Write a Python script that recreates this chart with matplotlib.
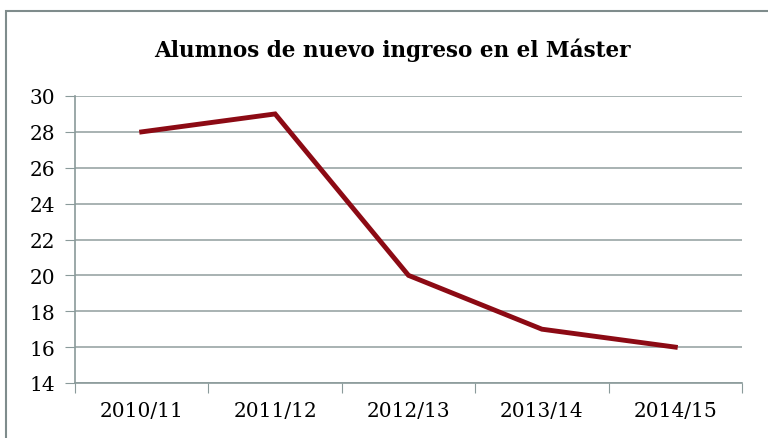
import matplotlib
matplotlib.use('Agg')
import matplotlib.pyplot as plt
from matplotlib.patches import Rectangle

# 数据
cursos = ['2010/11', '2011/12', '2012/13', '2013/14', '2014/15']
alumnos = [28, 29, 20, 17, 16]
y_ticks = [14, 16, 18, 20, 22, 24, 26, 28, 30]

plt.rcParams['font.family'] = ['DejaVu Serif']

fig = plt.figure(figsize=(7.68, 4.39), dpi=100)
ax = fig.add_axes([75 / 768, 1 - 384 / 439, (742 - 75) / 768, (384 - 97) / 439])

x = list(range(len(cursos)))
ax.plot(x, alumnos, color='#8c0a14', lw=3.5, solid_joinstyle='miter', zorder=3)

ax.set_xlim(-0.5, len(cursos) - 0.5)
ax.set_ylim(14, 30)
ax.set_yticks(y_ticks)
ax.set_yticklabels([str(v) for v in y_ticks], fontsize=14.5)

# categorías centradas, marcas en los límites
ax.set_xticks([i - 0.5 for i in range(len(cursos) + 1)])
ax.set_xticklabels([])
ax.set_xticks(x, minor=True)
ax.set_xticklabels(cursos, minor=True, fontsize=14.5)
ax.tick_params(axis='x', which='major', length=7, color='#8a9a9a', direction='out')
ax.tick_params(axis='x', which='minor', length=0, pad=13)
ax.tick_params(axis='y', length=7, color='#8a9a9a', pad=7)

ax.grid(axis='y', color='#9aa6a6', lw=1.2)
ax.set_axisbelow(True)
for s in ['top', 'right']:
    ax.spines[s].set_visible(False)
ax.spines['left'].set_color('#8a9a9a')
ax.spines['bottom'].set_color('#8a9a9a')
ax.spines['left'].set_linewidth(1.2)
ax.spines['bottom'].set_linewidth(1.2)

fig.text(392 / 768, 1 - 50 / 439, 'Alumnos de nuevo ingreso en el Máster',
         ha='center', va='center', fontsize=15.5, fontweight='bold')

# borde del gráfico
fig.patches.append(Rectangle((6 / 768, -0.01), 1.0, 1 - 12 / 439 + 0.01,
                             transform=fig.transFigure, fill=False,
                             edgecolor='#7f8c8c', lw=1.5))

fig.savefig('out.png', dpi=100)
